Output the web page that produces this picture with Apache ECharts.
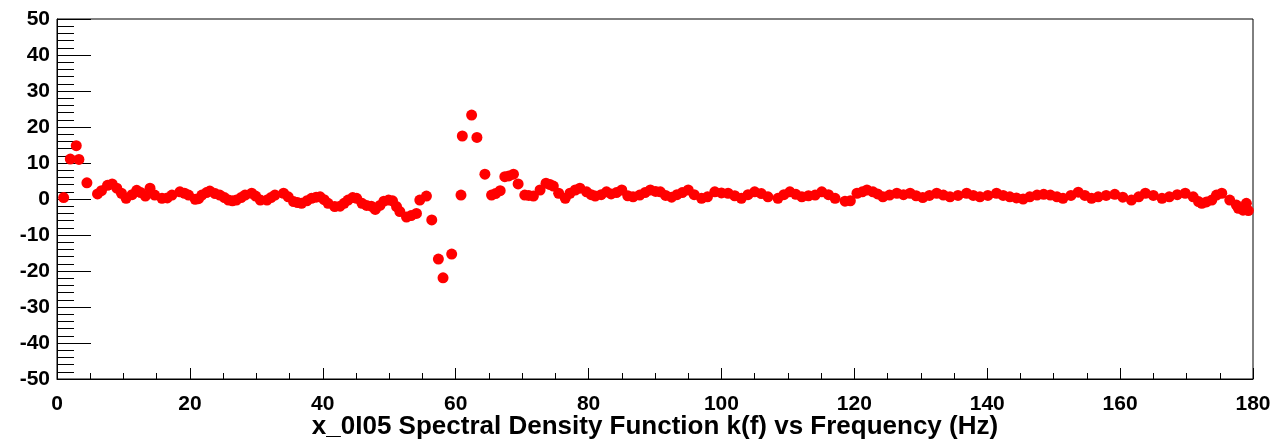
<!DOCTYPE html>
<html>
<head>
<meta charset="utf-8">
<script src="https://cdn.jsdelivr.net/npm/echarts@6/dist/echarts.min.js"></script>
<style>
html, body { margin: 0; padding: 0; background: #fff; }
#chart { width: 1276px; height: 441px; }
</style>
</head>
<body>
<div id="chart"></div>
<script>
var axisTitle = 'x_0I05 Spectral Density Function k(f) vs Frequency (Hz)';
var xTicks = [0, 20, 40, 60, 80, 100, 120, 140, 160, 180];
var yTicks = [-50, -40, -30, -20, -10, 0, 10, 20, 30, 40, 50];

// frequency (Hz) of each point
var freqHz = [
  1.0, 2.0, 2.9, 3.3, 4.5, 6.1, 6.7, 7.6, 8.3, 9.0,
  9.7, 10.4, 11.3, 12.0, 12.6, 13.3, 14.0, 14.7, 15.8, 16.6,
  17.3, 18.5, 19.2, 19.8, 20.8, 21.3, 21.8, 22.5, 23.0, 23.8,
  24.5, 25.2, 25.8, 26.4, 27.0, 27.7, 28.3, 29.3, 29.9, 30.6,
  31.6, 32.2, 32.8, 34.1, 34.8, 35.6, 36.2, 36.8, 37.6, 38.3,
  39.0, 39.6, 40.2, 40.8, 41.8, 42.6, 43.2, 43.8, 44.5, 45.1,
  45.9, 46.6, 47.3, 47.9, 48.6, 49.2, 49.9, 50.5, 51.1, 51.6,
  52.6, 53.3, 54.1, 54.6, 55.6, 56.4, 57.4, 58.1, 59.4, 60.8,
  61.0, 62.4, 63.2, 64.4, 65.4, 66.0, 66.7, 67.4, 68.0, 68.7,
  69.4, 70.4, 71.0, 71.7, 72.7, 73.6, 74.2, 74.7, 75.5, 76.5,
  77.2, 78.0, 78.7, 79.7, 80.4, 81.0, 81.9, 82.7, 83.4, 84.2,
  85.0, 85.9, 86.7, 87.7, 88.5, 89.3, 90.1, 90.8, 91.6, 92.5,
  93.3, 94.1, 95.0, 95.9, 97.0, 97.9, 99.0, 100.0, 101.0, 102.0,
  103.0, 104.0, 105.0, 106.0, 107.0, 108.5, 109.4, 110.3, 111.2, 112.1,
  113.1, 114.1, 115.1, 116.1, 117.1, 118.6, 119.4, 120.4, 121.2, 121.9,
  122.8, 123.5, 124.3, 125.3, 126.4, 127.4, 128.4, 129.3, 130.3, 131.3,
  132.4, 133.4, 134.4, 135.6, 136.9, 137.9, 138.9, 140.1, 141.4, 142.4,
  143.4, 144.4, 145.4, 146.4, 147.5, 148.5, 149.5, 150.5, 151.4, 152.6,
  153.7, 154.7, 155.7, 156.7, 157.9, 159.2, 160.4, 161.7, 162.8, 163.8,
  165.0, 166.3, 167.4, 168.6, 169.8, 171.0, 171.8, 172.3, 173.0, 173.8,
  174.5, 175.3, 176.5, 177.5, 177.8, 178.5, 179.0, 179.3
];

// k(f) at each frequency
var kValues = [
  0.4, 11.1, 14.8, 11.0, 4.5, 1.4, 2.3, 3.8, 4.2, 3.0,
  1.6, 0.2, 1.2, 2.4, 1.8, 0.8, 3.0, 1.1, 0.2, 0.3,
  1.1, 2.0, 1.6, 1.1, -0.1, 0.1, 1.1, 1.8, 2.2, 1.5,
  1.1, 0.4, -0.3, -0.5, -0.3, 0.4, 1.1, 1.6, 0.8, -0.3,
  -0.3, 0.4, 1.1, 1.6, 0.6, -0.7, -1.0, -1.2, -0.5, 0.2,
  0.5, 0.6, -0.2, -1.2, -2.1, -2.0, -1.2, -0.3, 0.4, 0.2,
  -1.2, -1.8, -2.0, -2.9, -1.8, -0.6, -0.3, -0.5, -2.1, -3.5,
  -5.0, -4.6, -4.0, -0.3, 0.8, -5.8, -16.7, -21.9, -15.3, 1.1,
  17.5, 23.3, 17.1, 6.9, 1.1, 1.5, 2.3, 6.2, 6.4, 6.9,
  4.2, 1.1, 1.0, 0.8, 2.5, 4.4, 4.0, 3.6, 1.6, 0.2,
  1.6, 2.5, 3.0, 2.0, 1.2, 0.8, 1.2, 2.0, 1.4, 1.8,
  2.5, 0.9, 0.6, 1.1, 1.8, 2.5, 2.1, 2.0, 1.0, 0.5,
  1.2, 1.8, 2.5, 1.2, 0.2, 0.6, 2.0, 1.7, 1.6, 0.9,
  0.2, 1.2, 2.0, 1.5, 0.6, 0.2, 1.2, 2.0, 1.3, 0.6,
  0.9, 1.1, 2.0, 1.2, 0.2, -0.6, -0.5, 1.6, 2.0, 2.5,
  2.0, 1.4, 0.6, 1.1, 1.6, 1.2, 1.6, 0.9, 0.4, 1.0,
  1.6, 1.1, 0.6, 1.0, 1.6, 1.0, 0.6, 1.0, 1.6, 1.0,
  0.6, 0.3, 0.0, 0.6, 1.1, 1.3, 1.1, 0.6, 0.2, 1.0,
  1.9, 1.0, 0.2, 0.6, 1.0, 1.3, 0.5, -0.3, 0.6, 1.6,
  1.0, 0.2, 0.6, 1.2, 1.6, 0.6, -0.7, -1.2, -0.8, -0.3,
  1.1, 1.6, -0.3, -1.7, -2.6, -3.1, -1.2, -3.2
];

var points = freqHz.map(function (f, i) { return [f, kValues[i]]; });

var labelFont = {
  color: '#000',
  fontFamily: '"Liberation Sans", Arial, sans-serif',
  fontWeight: 'bold',
  fontSize: 21
};

var chart = echarts.init(document.getElementById('chart'), null, {renderer: 'canvas'});
chart.setOption({
  animation: false,
  backgroundColor: '#fff',
  grid: {
    left: 57, right: 23, top: 19, bottom: 62,
    outerBoundsMode: 'none',
    show: true, borderColor: '#000', borderWidth: 1
  },
  xAxis: {
    type: 'value',
    min: xTicks[0],
    max: xTicks[xTicks.length - 1],
    interval: 20,
    name: axisTitle,
    nameLocation: 'middle',
    nameGap: 35,
    nameMoveOverlap: false,
    nameTextStyle: {
      color: '#000',
      fontFamily: '"Liberation Sans", Arial, sans-serif',
      fontWeight: 'bold',
      fontSize: 26
    },
    axisLine: {onZero: false, lineStyle: {color: '#000', width: 1}},
    axisTick: {inside: true, length: 11, lineStyle: {color: '#000'}},
    minorTick: {show: true, splitNumber: 4, length: 6, lineStyle: {color: '#000'}},
    axisLabel: Object.assign({margin: 15}, labelFont),
    splitLine: {show: false}
  },
  yAxis: {
    type: 'value',
    min: yTicks[0],
    max: yTicks[yTicks.length - 1],
    interval: 10,
    axisLine: {onZero: false, lineStyle: {color: '#000', width: 1}},
    axisTick: {inside: true, length: 34, lineStyle: {color: '#000'}},
    minorTick: {show: true, splitNumber: 5, length: 17, lineStyle: {color: '#000'}},
    axisLabel: Object.assign({margin: 7}, labelFont),
    splitLine: {show: false}
  },
  series: [{
    type: 'scatter',
    data: points,
    symbol: 'circle',
    symbolSize: 11,
    itemStyle: {color: '#ff0000', opacity: 1},
    emphasis: {disabled: true}
  }]
});
</script>
</body>
</html>
